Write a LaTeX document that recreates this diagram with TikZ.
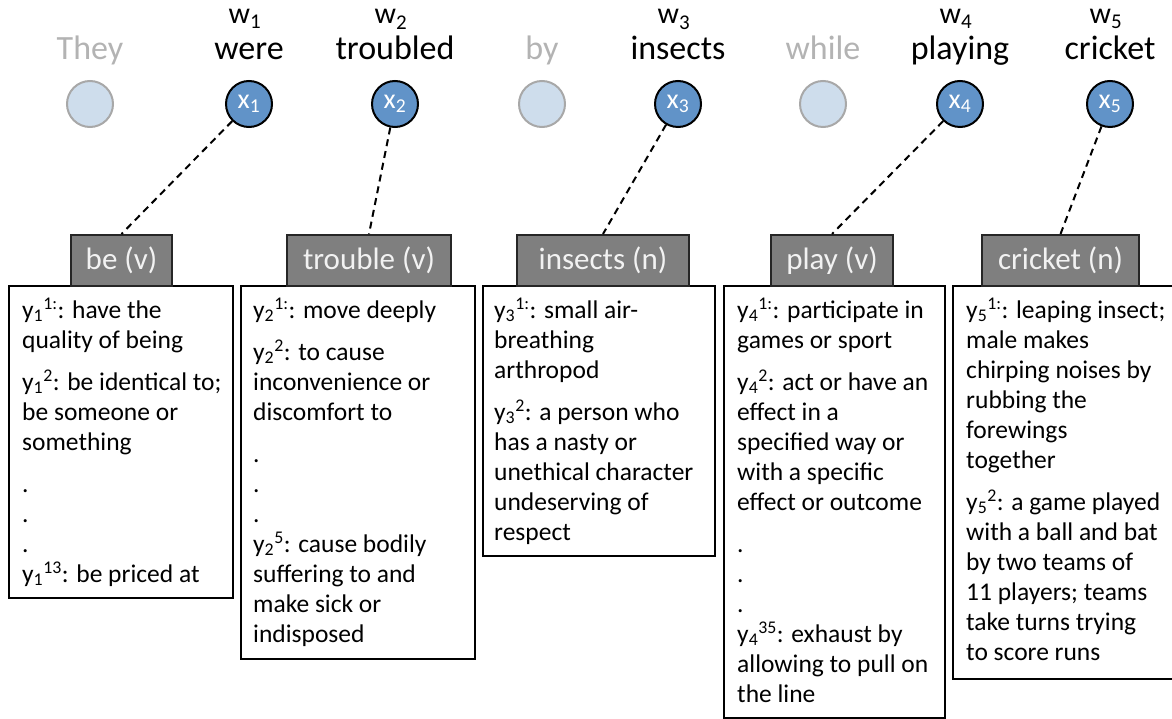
\documentclass[tikz,border=0pt]{standalone}
\usepackage{fontspec}
\setmainfont{Carlito}
\definecolor{ghostgray}{HTML}{B3B3B3}
\definecolor{lightblue}{HTML}{CEDDEC}
\definecolor{circgray}{HTML}{A8A8A8}
\definecolor{midblue}{HTML}{6193C8}
\definecolor{hdrgray}{HTML}{7F7F7F}
\definecolor{hdrborder}{HTML}{262626}
\definecolor{hdrtext}{HTML}{F2F2F2}
\begin{document}
\begin{tikzpicture}[x=1pt,y=-1pt,
  word/.style={font=\fontsize{34}{36}\selectfont, anchor=base, inner sep=0pt},
  wlabel/.style={font=\fontsize{30}{32}\selectfont, anchor=base, inner sep=0pt},
  ghost/.style={word, text=ghostgray},
  lightc/.style={circle, draw=circgray, fill=lightblue, line width=2pt, minimum size=46pt, inner sep=0pt},
  darkc/.style={circle, draw=black, fill=midblue, line width=2pt, minimum size=46pt, inner sep=0pt, text=white, font=\fontsize{28}{30}\selectfont},
  header/.style={draw=hdrborder, fill=hdrgray, line width=2pt, text=hdrtext, font=\fontsize{31}{34}\selectfont, anchor=north west, inner sep=0pt, minimum height=51pt},
  card/.style={draw=black, line width=2pt, anchor=north west, inner sep=0pt},
  cardtext/.style={anchor=north west, inner sep=0pt, align=left, font=\fontsize{25.5}{30}\selectfont},
  link/.style={dash pattern=on 7pt off 5pt, line width=2pt}
]
\useasboundingbox (0,0) rectangle (1172,719);

% words
\node[ghost] (wd0) at (90,60) {They};
\node[word] (wd1) at (249,60) {were};
\node[word] (wd2) at (395,60) {troubled};
\node[ghost] (wd3) at (542,60) {by};
\node[word] (wd4) at (678,60) {insects};
\node[ghost] (wd5) at (823,60) {while};
\node[word] (wd6) at (960,60) {playing};
\node[word] (wd7) at (1110,60) {cricket};

\node[wlabel] (wl1) at (245,24) {w\textsubscript{1}};
\node[wlabel] (wl2) at (391,24) {w\textsubscript{2}};
\node[wlabel] (wl3) at (674,24) {w\textsubscript{3}};
\node[wlabel] (wl4) at (956,24) {w\textsubscript{4}};
\node[wlabel] (wl5) at (1106,24) {w\textsubscript{5}};

% circles
\node[lightc] (c0) at (90,104) {};
\node[darkc] (x1) at (249,104) {x\textsubscript{1}};
\node[darkc] (x2) at (395,104) {x\textsubscript{2}};
\node[lightc] (c3) at (542,104) {};
\node[darkc] (x3) at (678,104) {x\textsubscript{3}};
\node[lightc] (c5) at (823,104) {};
\node[darkc] (x4) at (960,104) {x\textsubscript{4}};
\node[darkc] (x5) at (1110,104) {x\textsubscript{5}};

% cards
\node[card, minimum width=224pt, minimum height=312pt] (b1) at (8,285) {};
\node[card, minimum width=234pt, minimum height=373pt] (b2) at (240,285) {};
\node[card, minimum width=232pt, minimum height=270pt] (b3) at (482,285) {};
\node[card, minimum width=221pt, minimum height=432pt] (b4) at (723,285) {};
\node[card, minimum width=230pt, minimum height=393pt] (b5) at (952,285) {};

% headers
\node[header, minimum width=101pt] (h1) at (70,234) {be (v)};
\node[header, minimum width=164pt] (h2) at (286,234) {trouble (v)};
\node[header, minimum width=172pt] (h3) at (516,234) {insects (n)};
\node[header, minimum width=122pt] (h4) at (770,234) {play (v)};
\node[header, minimum width=157pt] (h5) at (981,234) {cricket (n)};

% links
\draw[link] (x1) -- (h1.north);
\draw[link] (x2) -- (h2.north);
\draw[link] (x3) -- (h3.north);
\draw[link] (x4) -- (h4.north);
\draw[link] (x5) -- (h5.north);

% card texts
\node[cardtext] (t1) at (22,297) {\strut y\textsubscript{1}\textsuperscript{1:}: have the\\
quality of being\\[12pt]
y\textsubscript{1}\textsuperscript{2}: be identical to;\\
be someone or\\
something\\[12pt]
.\\
.\\
.\\
y\textsubscript{1}\textsuperscript{13}: be priced at};

\node[cardtext] (t2) at (253,297) {\strut y\textsubscript{2}\textsuperscript{1:}: move deeply\\[12pt]
y\textsubscript{2}\textsuperscript{2}: to cause\\
inconvenience or\\
discomfort to\\[12pt]
.\\
.\\
.\\
y\textsubscript{2}\textsuperscript{5}: cause bodily\\
suffering to and\\
make sick or\\
indisposed};

\node[cardtext] (t3) at (494,297) {\strut y\textsubscript{3}\textsuperscript{1:}: small air-\\
breathing\\
arthropod\\[12pt]
y\textsubscript{3}\textsuperscript{2}: a person who\\
has a nasty or\\
unethical character\\
undeserving of\\
respect};

\node[cardtext] (t4) at (737,297) {\strut y\textsubscript{4}\textsuperscript{1:}: participate in\\
games or sport\\[12pt]
y\textsubscript{4}\textsuperscript{2}: act or have an\\
effect in a\\
specified way or\\
with a specific\\
effect or outcome\\[12pt]
.\\
.\\
.\\
y\textsubscript{4}\textsuperscript{35}: exhaust by\\
allowing to pull on\\
the line};

\node[cardtext] (t5) at (966,297) {\strut y\textsubscript{5}\textsuperscript{1:}: leaping insect;\\
male makes\\
chirping noises by\\
rubbing the\\
forewings\\
together\\[12pt]
y\textsubscript{5}\textsuperscript{2}: a game played\\
with a ball and bat\\
by two teams of\\
11 players; teams\\
take turns trying\\
to score runs};
\end{tikzpicture}
\end{document}
